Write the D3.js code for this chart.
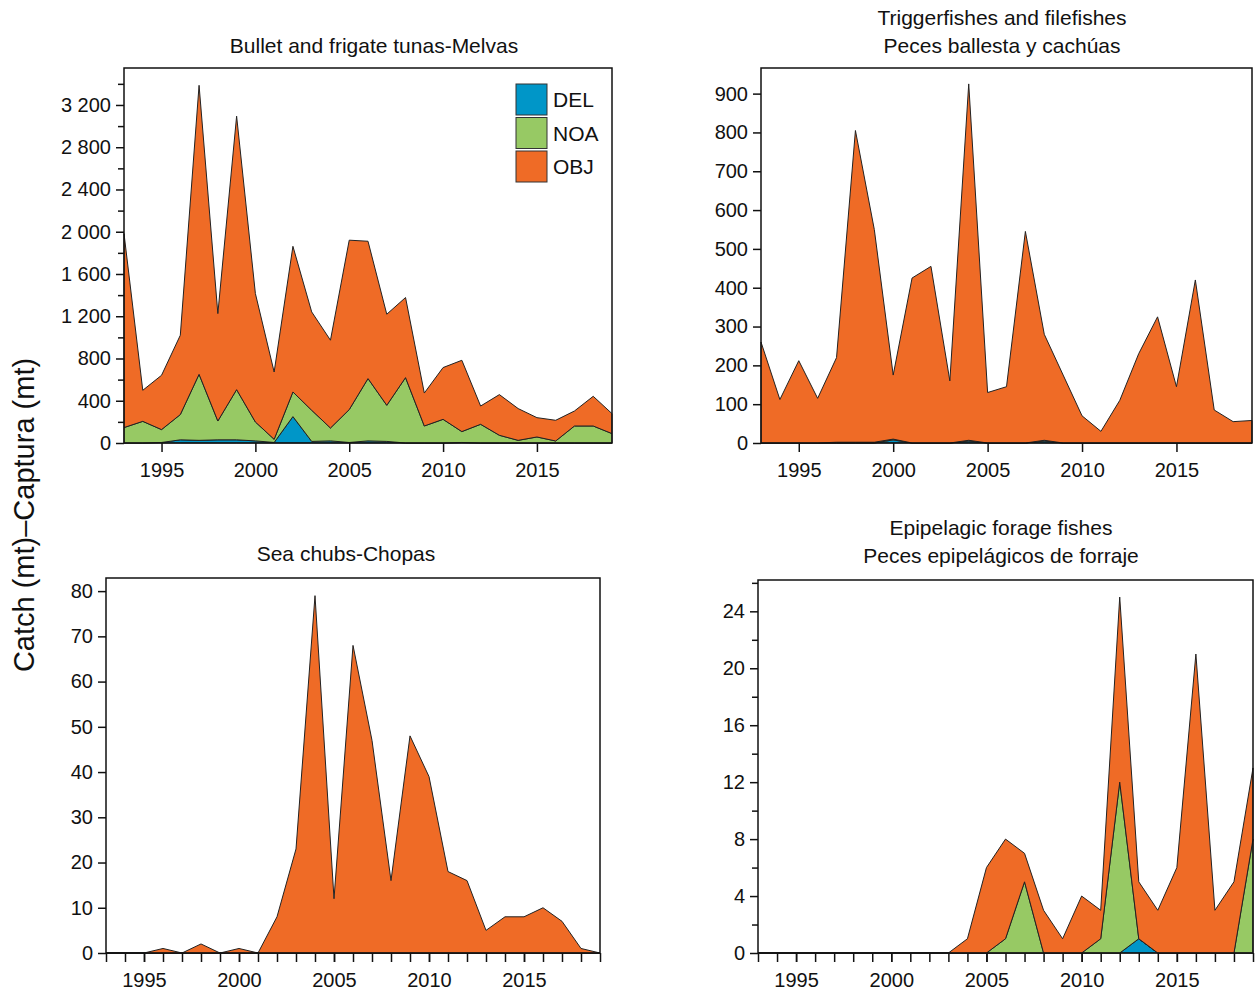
<!DOCTYPE html>
<html><head><meta charset="utf-8">
<script src="https://cdn.jsdelivr.net/npm/d3@7"></script>
<style>body{margin:0;background:#fff}text{font-family:Arial,"Liberation Sans",sans-serif;fill:#111}</style>
</head><body><svg id="c" width="1255" height="996"></svg>
<script>
var years = d3.range(1993, 2020);
var colors = {DEL:"#0096c8", NOA:"#97c964", OBJ:"#ef6b26"};

// Bullet and frigate tunas
var tunaDEL = [0,0,5,30,25,30,30,20,5,250,15,20,5,20,15,0,0,0,5,0,0,0,0,0,0,0,0];
var tunaNOA = [146,205,122,239,625,178,475,179,30,233,295,122,311,590,342,619,161,224,103,177,73,25,57,19,161,161,89];
var tunaOBJ = [1837,294,514,751,2736,1017,2589,1216,637,1379,931,831,1604,1300,862,758,312,490,675,173,385,301,183,196,142,281,189];

// Triggerfishes
var trigDEL = [0,0,0,0,0,0,0,8,0,0,0,5,0,0,0,5,0,0,0,0,0,0,0,0,0,0,0];
var trigNOA = [0,0,0,0,2,2,2,2,0,0,0,2,0,0,0,2,0,0,0,0,0,0,0,0,0,0,0];
var trigOBJ = [260,112,212,115,218,803,548,165,425,455,160,918,130,145,545,273,175,70,30,110,230,325,145,420,85,55,58];

// Sea chubs
var chubDEL = years.map(function(){return 0;});
var chubNOA = years.map(function(){return 0;});
var chubOBJ = [0,0,0,1,0,2,0,1,0,8,23,79,12,68,47,16,48,39,18,16,5,8,8,10,7,1,0];

// Epipelagic forage fishes
var epiDEL = [0,0,0,0,0,0,0,0,0,0,0,0,0,0,0,0,0,0,0,0,1,0,0,0,0,0,0];
var epiNOA = [0,0,0,0,0,0,0,0,0,0,0,0,0,1,5,0,0,0,1,12,0,0,0,0,0,0,8];
var epiOBJ = [0,0,0,0,0,0,0,0,0,0,0,1,6,7,2,3,1,4,2,13,4,3,6,21,3,5,5];

var svg = d3.select("#c");
var fmt = function(v){ return d3.format(",")(v).replace(/,/g, " "); };

function panel(o) {
  var x = d3.scaleLinear().domain([1993, 2019]).range([o.x0, o.x1]);
  var y = d3.scaleLinear().domain([0, o.ymax]).range([o.y1, o.y0]);
  var rows = years.map(function(yr, i){ return {year:yr, DEL:o.del[i], NOA:o.noa[i], OBJ:o.obj[i]}; });
  var stack = d3.stack().keys(["DEL","NOA","OBJ"])(rows);
  var area = d3.area().x(function(d){return x(d.data.year);}).y0(function(d){return y(d[0]);}).y1(function(d){return y(d[1]);});
  var g = svg.append("g");
  g.selectAll("path.a").data(stack).enter().append("path")
    .attr("d", area).attr("fill", function(d){return colors[d.key];})
    .attr("stroke", "#222").attr("stroke-width", 1).attr("stroke-linejoin","round");
  g.append("rect").attr("x", o.x0).attr("y", o.y0).attr("width", o.x1 - o.x0).attr("height", o.y1 - o.y0)
    .attr("fill", "none").attr("stroke", "#111").attr("stroke-width", 1.5);
  // y axis
  var ya = g.append("g").attr("transform", "translate(" + o.x0 + ",0)")
    .call(d3.axisLeft(y).tickValues(d3.range(0, o.ymax, o.ystep)).tickSize(8).tickFormat(fmt));
  if (o.yminor) g.append("g").attr("transform", "translate(" + o.x0 + ",0)")
    .call(d3.axisLeft(y).tickValues(d3.range(o.yminor, o.ymax, o.ystep)).tickSize(6).tickFormat(""));
  // x axis
  var xa = g.append("g").attr("transform", "translate(0," + o.y1 + ")")
    .call(d3.axisBottom(x).tickValues([1995,2000,2005,2010,2015]).tickSize(9).tickFormat(d3.format("d")));
  if (o.xminor) g.append("g").attr("transform", "translate(0," + o.y1 + ")")
    .call(d3.axisBottom(x).tickValues(years).tickSize(9).tickFormat(""));
  g.selectAll(".domain").remove();
  g.selectAll(".tick line").attr("stroke", "#111").attr("stroke-width", 1.5);
  g.selectAll(".tick text").attr("font-size", 20).style("font-family", "Arial, 'Liberation Sans', sans-serif").attr("fill", "#111");
  ya.selectAll(".tick text").attr("x", -13);
  xa.selectAll(".tick text").attr("y", 20);
  o.title.forEach(function(t, i){
    g.append("text").attr("x", o.tx).attr("y", o.ty + i * 28)
      .attr("text-anchor", "middle").attr("font-size", 21).text(t);
  });
}

panel({x0:124, x1:612, y0:68, y1:443, ymax:3550, ystep:400, yminor:200, xminor:false,
  del:tunaDEL, noa:tunaNOA, obj:tunaOBJ, title:["Bullet and frigate tunas-Melvas"], tx:374, ty:53});
panel({x0:761, x1:1252, y0:68, y1:443, ymax:966, ystep:100, xminor:false,
  del:trigDEL, noa:trigNOA, obj:trigOBJ, title:["Triggerfishes and filefishes","Peces ballesta y cachúas"], tx:1002, ty:25});
panel({x0:106, x1:600, y0:578, y1:953, ymax:82.9, ystep:10, xminor:true,
  del:chubDEL, noa:chubNOA, obj:chubOBJ, title:["Sea chubs-Chopas"], tx:346, ty:561});
panel({x0:758, x1:1253, y0:580, y1:953, ymax:26.2, ystep:4, yminor:2, xminor:true,
  del:epiDEL, noa:epiNOA, obj:epiOBJ, title:["Epipelagic forage fishes","Peces epipelágicos de forraje"], tx:1001, ty:535});

// legend
var keys = ["DEL","NOA","OBJ"];
var lg = svg.append("g");
keys.forEach(function(k, i){
  lg.append("rect").attr("x", 516).attr("y", 84 + i * 33.5).attr("width", 31).attr("height", 31)
    .attr("fill", colors[k]).attr("stroke", "#333").attr("stroke-width", 1);
  lg.append("text").attr("x", 553).attr("y", 107 + i * 33.5).attr("font-size", 21).text(k);
});

svg.append("text").attr("transform", "translate(34,515) rotate(-90)").attr("text-anchor", "middle")
  .attr("font-size", 29).text("Catch (mt)–Captura (mt)");
</script></body></html>
